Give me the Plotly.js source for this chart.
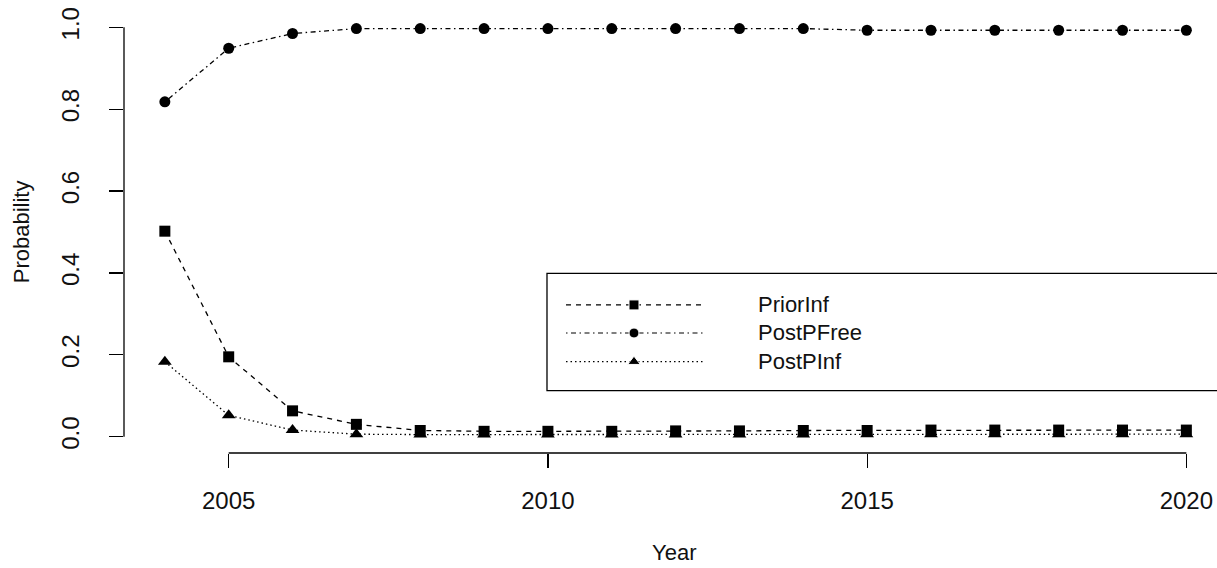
<!DOCTYPE html>
<html>
<head>
<meta charset="utf-8">
<script src="https://cdn.plot.ly/plotly-3.0.1.min.js"></script>
<style>html,body{margin:0;padding:0;background:#fff;}#chart{width:1217px;height:568px;}</style>
</head>
<body>
<div id="chart"></div>
<script>
const years = [2004,2005,2006,2007,2008,2009,2010,2011,2012,2013,2014,2015,2016,2017,2018,2019,2020];
const priorInf  = [0.502,0.195,0.063,0.030,0.015,0.013,0.013,0.013,0.014,0.014,0.015,0.015,0.016,0.016,0.016,0.016,0.016];
const postPFree = [0.818,0.949,0.985,0.997,0.997,0.997,0.997,0.997,0.997,0.997,0.997,0.993,0.993,0.993,0.993,0.993,0.993];
const postPInf  = [0.183,0.052,0.016,0.006,0.005,0.005,0.005,0.005,0.005,0.005,0.005,0.006,0.006,0.006,0.006,0.006,0.006];
const seriesNames = ["PriorInf","PostPFree","PostPInf"];
const xTicks = [2005,2010,2015,2020];
const yTicks = [0.0,0.2,0.4,0.6,0.8,1.0];
const yTickText = ["0.0","0.2","0.4","0.6","0.8","1.0"];

const FONT = "Liberation Sans, Arial, sans-serif";
const styles = [
  {dash:"5px,5px", symbol:"square", size:11},
  {dash:"1.5px,3.5px,5px,3.5px", symbol:"circle", size:11},
  {dash:"1.5px,3px", symbol:"triangle-up", size:12}
];
const seriesData = [priorInf, postPFree, postPInf];

const traces = seriesData.map((ys,i)=>({
  x: years, y: ys, type:"scatter", mode:"lines+markers", name: seriesNames[i],
  showlegend:false, cliponaxis:false,
  line:{color:"#000", width:1.3, dash:styles[i].dash},
  marker:{color:"#000", symbol:styles[i].symbol, size:styles[i].size}
}));

// manual R-style legend (layout positions in overlay axis units)
const legRows = [0.335, 0.2715, 0.2066];
const legX = [0.4044, 0.4666, 0.5297];
seriesNames.forEach((n,i)=>{
  traces.push({
    x: legX, y:[legRows[i],legRows[i],legRows[i]], xaxis:"x2", yaxis:"y2",
    type:"scatter", mode:"lines+markers", showlegend:false, hoverinfo:"skip",
    line:{color:"#000", width:1.2, dash:styles[i].dash},
    marker:{color:"#000", symbol:styles[i].symbol, size:[0,styles[i].size-1,0], opacity:1}
  });
});

const annotations = seriesNames.map((n,i)=>({
  text:n, xref:"paper", yref:"paper", x:0.578, y:legRows[i], xanchor:"left", yanchor:"middle",
  showarrow:false, font:{family:FONT, size:22, color:"#111"}
}));
annotations.push({text:"Year", xref:"paper", yref:"paper", x:0.503, y:-0.226, xanchor:"center", yanchor:"middle",
  showarrow:false, font:{family:FONT, size:22, color:"#111"}});
annotations.push({text:"Probability", xref:"paper", yref:"paper", x:-0.094, y:0.5, textangle:-90, xanchor:"center", yanchor:"middle",
  showarrow:false, font:{family:FONT, size:22, color:"#111"}});

const layout = {
  width:1217, height:568,
  margin:{l:124, r:0, t:11, b:115},
  paper_bgcolor:"#fff", plot_bgcolor:"#fff",
  font:{family:FONT, color:"#000"},
  xaxis:{range:[2003.36,2020.48], tickvals:xTicks, ticktext:xTicks.map(String), ticks:"outside", ticklen:14, tickwidth:1.2, tickcolor:"#000",
    showgrid:false, zeroline:false, showline:false, tickfont:{family:FONT, size:24, color:"#111"}, ticklabelstandoff:12},
  yaxis:{range:[-0.04,1.04], tickvals:yTicks, ticktext:yTickText, ticks:"outside", ticklen:14, tickwidth:1.2, tickcolor:"#000",
    showgrid:false, zeroline:false, showline:false, tickangle:-90, tickfont:{family:FONT, size:24, color:"#111"}, ticklabelstandoff:20},
  xaxis2:{overlaying:"x", range:[0,1], visible:false, fixedrange:true},
  yaxis2:{overlaying:"y", range:[0,1], visible:false, fixedrange:true},
  shapes:[
    {type:"line", xref:"paper", yref:"y", x0:0, x1:0, y0:yTicks[0], y1:yTicks[yTicks.length-1], line:{color:"#000", width:1.3}},
    {type:"line", xref:"x", yref:"paper", x0:xTicks[0], x1:xTicks[xTicks.length-1], y0:0, y1:0, line:{color:"#000", width:1.3}},
    {type:"rect", xref:"paper", yref:"paper", x0:0.387, x1:1.05, y0:0.141, y1:0.4066, line:{color:"#000", width:1.3}}
  ],
  annotations:annotations,
  showlegend:false
};
Plotly.newPlot("chart", traces, layout, {staticPlot:true});
</script>
</body>
</html>
